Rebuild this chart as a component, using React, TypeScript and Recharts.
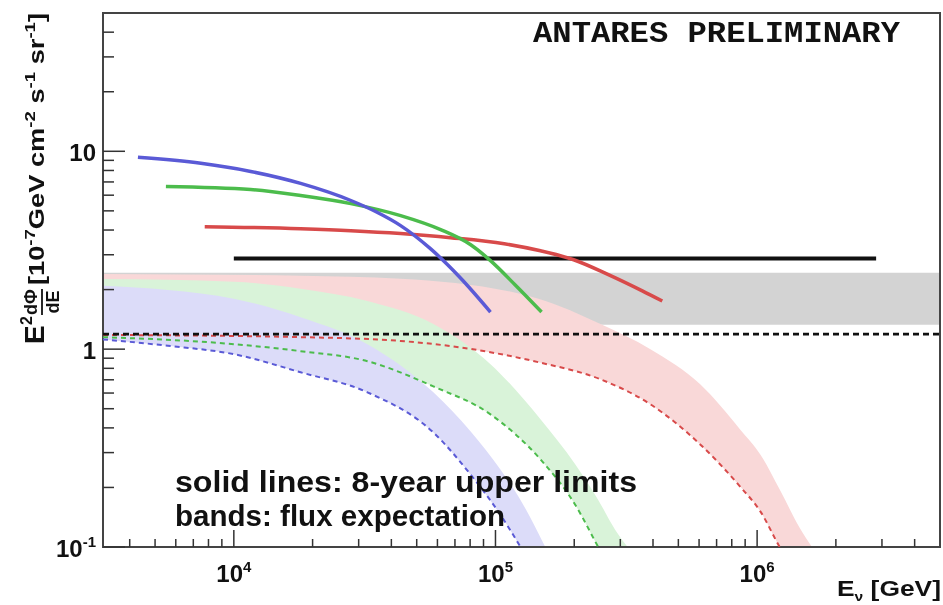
import { ComposedChart, Line, Area, XAxis, YAxis, ReferenceArea } from 'recharts';

// axis ranges (log-log)
const X_MIN = 3162;
const X_MAX = 5e6;
const Y_MIN = 0.1;
const Y_MAX = 50;

const xTicks = [
  4000, 5000, 6000, 7000, 8000, 9000, 1e4, 2e4, 3e4, 4e4, 5e4, 6e4, 7e4, 8e4, 9e4, 1e5, 2e5, 3e5, 4e5, 5e5,
  6e5, 7e5, 8e5, 9e5, 1e6, 2e6, 3e6, 4e6,
];
const xMajor = [1e4, 1e5, 1e6];
const xMajorExp = ['4', '5', '6'];

const yTicks = [
  0.1, 0.2, 0.3, 0.4, 0.5, 0.6, 0.7, 0.8, 0.9, 1, 2, 3, 4, 5, 6, 7, 8, 9, 10, 20, 30, 40,
];
const yMajor = [0.1, 1, 10];
const yMajorBase = ['10', '1', '10'];
const yMajorExp = ['-1', '', ''];

// 8-year upper limits (solid)
const blueLimitE = [4300, 7480, 11600, 18000, 28000, 34800, 43400, 56400, 73500, 95700];
const blueLimitV = [9.32, 8.69, 7.91, 6.88, 5.64, 4.96, 4.21, 3.22, 2.29, 1.54];

const greenLimitE = [5500, 11600, 18000, 28000, 43400, 61700, 80400, 95700, 119000, 150000];
const greenLimitV = [6.64, 6.41, 5.98, 5.44, 4.73, 4.02, 3.37, 2.8, 2.11, 1.54];

const redLimitE = [7740, 18000, 28000, 43400, 67300, 108000, 148600, 199000, 270000, 364000, 434000];
const redLimitV = [4.16, 4.06, 3.97, 3.84, 3.66, 3.41, 3.14, 2.83, 2.38, 1.97, 1.75];

const blackLimitE = [1e4, 2.85e6];
const blackLimitV = [2.87, 2.87];

const blackDashE = [3162, 5e6];
const blackDashV = [1.19, 1.19];

// flux expectation bands (dashed = lower edge)
const blueBandE = [3162, 5600, 10000, 18000, 32400, 57900, 80400, 104600, 124600, 155000];
const blueBandLow = [1.12, 1.04, 0.943, 0.764, 0.605, 0.379, 0.232, 0.145, 0.1, 0.06];
const blueBandHigh = [2.09, 1.99, 1.8, 1.45, 1.06, 0.605, 0.384, 0.246, 0.173, 0.1];

const greenBandE = [3162, 10000, 18000, 32400, 57900, 95700, 148600, 202000, 247000, 287000, 320000];
const greenBandLow = [1.15, 1.06, 0.977, 0.869, 0.648, 0.468, 0.277, 0.163, 0.1, 0.07, 0.055];
const greenBandHigh = [2.26, 2.19, 2.02, 1.75, 1.34, 0.84, 0.442, 0.261, 0.173, 0.122, 0.1];

const redBandE = [3162, 18000, 43400, 146000, 252000, 391000, 606000, 861000, 1030000, 1220000, 1450000, 1620000];
const redBandLow = [1.18, 1.15, 1.1, 0.859, 0.704, 0.526, 0.33, 0.202, 0.151, 0.1, 0.07, 0.06];
const redBandHigh = [2.4, 2.35, 2.27, 1.8, 1.34, 1.0, 0.664, 0.393, 0.293, 0.195, 0.126, 0.1];

const greyBandE = [3162, 5e6];
const greyBandLow = [1.33, 1.33];
const greyBandHigh = [2.43, 2.43];

const BLUE = '#5a5ad6';
const GREEN = '#4cbc4c';
const RED = '#d84a4a';
const FONT = "'Liberation Sans', Arial, sans-serif";

const toLine = (es: number[], vs: number[]) => es.map((e, i) => ({ e, v: vs[i] }));
const toBand = (es: number[], lo: number[], hi: number[]) => es.map((e, i) => ({ e, range: [lo[i], hi[i]] }));

const XTick = (props: any) => {
  const { x, y, payload } = props;
  const idx = xMajor.indexOf(payload.value);
  const major = idx >= 0;
  return (
    <g>
      <line x1={x} x2={x} y1={y} y2={y - (major ? 17 : 8)} stroke="#333" strokeWidth={1.5} />
      {major && (
        <text x={x} y={y + 35} textAnchor="middle" fontFamily={FONT} fontWeight="bold" fontSize={24} fill="#111">
          10
          <tspan dy={-10} fontSize={15}>
            {xMajorExp[idx]}
          </tspan>
        </text>
      )}
    </g>
  );
};

const YTick = (props: any) => {
  const { x, y, payload } = props;
  const idx = yMajor.indexOf(payload.value);
  const major = idx >= 0;
  const x0 = x + 7;
  return (
    <g>
      <line x1={x0} x2={x0 + (major ? 22 : 11)} y1={y} y2={y} stroke="#333" strokeWidth={1.5} />
      {major && (
        <text x={x} y={y + 10} textAnchor="end" fontFamily={FONT} fontWeight="bold" fontSize={24} fill="#111">
          {yMajorBase[idx]}
          {yMajorExp[idx] && (
            <tspan dy={-10} fontSize={15}>
              {yMajorExp[idx]}
            </tspan>
          )}
        </text>
      )}
    </g>
  );
};

const Overlay = () => (
  <svg
    width={943}
    height={605}
    style={{ position: 'absolute', left: 0, top: 0, pointerEvents: 'none' }}
    fontFamily={FONT}
    fill="#111"
  >
    <text x={533} y={42} fontFamily="'Liberation Mono', 'Courier New', monospace" fontWeight="bold" fontSize={30} textLength={367} lengthAdjust="spacingAndGlyphs">
      ANTARES PRELIMINARY
    </text>
    <text x={175} y={492} fontWeight="bold" fontSize={29} textLength={462} lengthAdjust="spacingAndGlyphs">
      solid lines: 8-year upper limits
    </text>
    <text x={175} y={526} fontWeight="bold" fontSize={29} textLength={330} lengthAdjust="spacingAndGlyphs">
      bands: flux expectation
    </text>
    <text x={837} y={596} fontWeight="bold" fontSize={22} textLength={104} lengthAdjust="spacingAndGlyphs">
      E<tspan dy={5} fontSize={13}>ν</tspan>
      <tspan dy={-5}> [GeV]</tspan>
    </text>
    <g transform="translate(44, 344) rotate(-90)" fontWeight="bold">
      <text x={0} y={0} fontSize={28}>E</text>
      <text x={19} y={-12} fontSize={16}>2</text>
      <text x={42} y={-7} fontSize={18} textAnchor="middle">dΦ</text>
      <line x1={29} x2={55} y1={-2} y2={-2} stroke="#111" strokeWidth={1.8} />
      <text x={42} y={15} fontSize={18} textAnchor="middle">dE</text>
      <text x={59} y={0} fontSize={22} textLength={272} lengthAdjust="spacingAndGlyphs">
        [10<tspan dy={-9} fontSize={15}>-7</tspan>
        <tspan dy={9}>GeV cm</tspan>
        <tspan dy={-9} fontSize={15}>-2</tspan>
        <tspan dy={9}> s</tspan>
        <tspan dy={-9} fontSize={15}>-1</tspan>
        <tspan dy={9}> sr</tspan>
        <tspan dy={-9} fontSize={15}>-1</tspan>
        <tspan dy={9}>]</tspan>
      </text>
    </g>
  </svg>
);

export default function App() {
  return (
    <div style={{ position: 'absolute', left: 0, top: 0, width: 943, height: 605, background: '#fff' }}>
      {/* bands overlap like ROOT's dotted fills: keep the darker channel, no stacking */}
      <style>{'.band path { mix-blend-mode: darken; }'}</style>
      <ComposedChart width={943} height={605} margin={{ top: 13, right: 3, bottom: 0, left: 0 }}>
        <XAxis
          dataKey="e"
          type="number"
          scale="log"
          domain={[X_MIN, X_MAX]}
          allowDataOverflow
          ticks={xTicks}
          interval={0}
          height={58}
          tickSize={0}
          tickMargin={0}
          axisLine={false}
          tickLine={false}
          tick={<XTick />}
        />
        <YAxis
          type="number"
          scale="log"
          domain={[Y_MIN, Y_MAX]}
          allowDataOverflow
          ticks={yTicks}
          interval={0}
          width={103}
          tickSize={0}
          tickMargin={7}
          axisLine={false}
          tickLine={false}
          tick={<YTick />}
        />
        <Area className="band" data={toBand(greyBandE, greyBandLow, greyBandHigh)} dataKey="range" type="linear" stroke="none" fill="#d3d3d3" fillOpacity={1} isAnimationActive={false} />
        <Area className="band" data={toBand(redBandE, redBandLow, redBandHigh)} dataKey="range" type="monotone" stroke="none" fill="#f9d8d8" fillOpacity={1} isAnimationActive={false} />
        <Area className="band" data={toBand(greenBandE, greenBandLow, greenBandHigh)} dataKey="range" type="monotone" stroke="none" fill="#d9f3d9" fillOpacity={1} isAnimationActive={false} />
        <Area className="band" data={toBand(blueBandE, blueBandLow, blueBandHigh)} dataKey="range" type="monotone" stroke="none" fill="#dcdcf9" fillOpacity={1} isAnimationActive={false} />
        <Line data={toLine(redBandE, redBandLow)} dataKey="v" type="monotone" stroke={RED} strokeWidth={2} strokeDasharray="5 4" dot={false} isAnimationActive={false} />
        <Line data={toLine(greenBandE, greenBandLow)} dataKey="v" type="monotone" stroke={GREEN} strokeWidth={2} strokeDasharray="5 4" dot={false} isAnimationActive={false} />
        <Line data={toLine(blueBandE, blueBandLow)} dataKey="v" type="monotone" stroke={BLUE} strokeWidth={2} strokeDasharray="5 4" dot={false} isAnimationActive={false} />
        <Line data={toLine(blackDashE, blackDashV)} dataKey="v" type="linear" stroke="#111" strokeWidth={2.8} strokeDasharray="6 4" dot={false} isAnimationActive={false} />
        <Line data={toLine(blackLimitE, blackLimitV)} dataKey="v" type="linear" stroke="#111" strokeWidth={4} dot={false} isAnimationActive={false} />
        <Line data={toLine(redLimitE, redLimitV)} dataKey="v" type="monotone" stroke={RED} strokeWidth={3.5} dot={false} isAnimationActive={false} />
        <Line data={toLine(greenLimitE, greenLimitV)} dataKey="v" type="monotone" stroke={GREEN} strokeWidth={3.5} dot={false} isAnimationActive={false} />
        <Line data={toLine(blueLimitE, blueLimitV)} dataKey="v" type="monotone" stroke={BLUE} strokeWidth={3.5} dot={false} isAnimationActive={false} />
        <ReferenceArea x1={X_MIN} x2={X_MAX} y1={Y_MIN} y2={Y_MAX} fill="none" stroke="#444" strokeWidth={2} fillOpacity={0} />
      </ComposedChart>
      <Overlay />
    </div>
  );
}
